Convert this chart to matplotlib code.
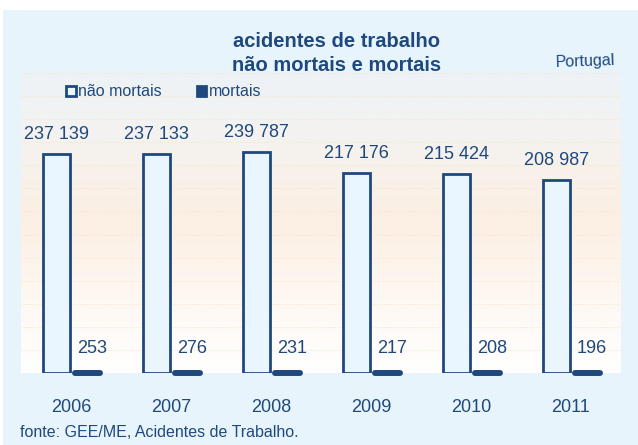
import numpy as np
import matplotlib
matplotlib.use("Agg")
import matplotlib.pyplot as plt
from matplotlib.colors import LinearSegmentedColormap
from matplotlib.patches import Rectangle, Patch

plt.rcParams['font.family'] = ['Liberation Sans', 'DejaVu Sans']

years = ["2006", "2007", "2008", "2009", "2010", "2011"]
nao_mortais = [237139, 237133, 239787, 217176, 215424, 208987]
mortais = [253, 276, 231, 217, 208, 196]
nao_labels = ["237 139", "237 133", "239 787", "217 176", "215 424", "208 987"]
mort_labels = ["253", "276", "231", "217", "208", "196"]

DARK = "#1F497D"
LIGHT_FILL = "#E9F5FF"
FRAME = "#E8F4FC"

W, H = 638, 445
fig = plt.figure(figsize=(W / 100, H / 100), dpi=100)
fig.patch.set_facecolor("white")

# outer light-blue frame
fig.add_artist(Rectangle((3 / W, 0), 1 - 3 / W, 1 - 10 / H, transform=fig.transFigure,
                         facecolor=FRAME, edgecolor="none", zorder=0))

ax = fig.add_axes([21 / W, (H - 373) / H, 600 / W, 300 / H])
ax.set_xlim(-0.5, 5.5)
ax.set_ylim(0, 325000)
ax.set_facecolor("none")
for s in ax.spines.values():
    s.set_visible(False)

# gradient background
cmap = LinearSegmentedColormap.from_list("bg", [
    (0.0, "#FFFFFF"), (0.3, "#FEF6EF"), (0.52, "#FCEFE3"),
    (0.8, "#F4F3F1"), (1.0, "#EDF2F7")])
grad = np.linspace(0, 1, 256).reshape(-1, 1)
ax.imshow(grad, cmap=cmap, aspect="auto", origin="lower",
          extent=(-0.5, 5.5, 0, 325000), zorder=0)

# gridlines
ax.set_yticks(np.arange(25000, 325001, 25000))
ax.yaxis.grid(True, linestyle=(0, (1, 1.5)), color="#F9E4CC", linewidth=0.7, zorder=1)
ax.tick_params(axis="y", left=False, labelleft=False)

x = np.arange(len(years))
b1 = ax.bar(x - 0.145, nao_mortais, width=0.27, facecolor=LIGHT_FILL,
            edgecolor=DARK, linewidth=2.0, zorder=3)
b2 = ax.bar(x + 0.16, mortais, width=0.25, facecolor=DARK, edgecolor=DARK,
            linewidth=4.3, zorder=3, joinstyle="round", capstyle="round", clip_on=False)

for xi, v, lab in zip(x, nao_mortais, nao_labels):
    ax.annotate(lab, xy=(xi - 0.145, v), xytext=(0, 15), textcoords="offset pixels",
                ha="center", va="baseline", fontsize=13, color=DARK)
for xi, v, lab in zip(x, mortais, mort_labels):
    ax.annotate(lab, xy=(xi + 0.16, v), xytext=(5, 20), textcoords="offset pixels",
                ha="center", va="baseline", fontsize=13, color=DARK)

ax.set_xticks(x)
ax.set_xticklabels(years, fontsize=13, color=DARK)
ax.tick_params(axis="x", length=0, pad=18.5)

# title
fig.text(336.5 / W, 1 - 46.7 / H, "acidentes de trabalho", ha="center", va="baseline",
         fontsize=14.5, fontweight="bold", color=DARK)
fig.text(336.5 / W, 1 - 70.7 / H, "não mortais e mortais", ha="center", va="baseline",
         fontsize=14.5, fontweight="bold", color=DARK)
fig.text(615 / W, 1 - 65 / H, "Portugal", ha="right", va="baseline",
         fontsize=11.5, color=DARK, rotation=2, rotation_mode="anchor")

# legend
handles = [Patch(facecolor=LIGHT_FILL, edgecolor=DARK, linewidth=2.0, label="não mortais"),
           Patch(facecolor=DARK, edgecolor=DARK, linewidth=2.0, joinstyle="round",
                 label="mortais")]
fig.legend(handles=handles, loc="center left", bbox_to_anchor=(66 / W, 1 - 92 / H),
           ncol=2, frameon=False, fontsize=11.5, handlelength=0.6, handleheight=0.65,
           handletextpad=0.15, columnspacing=2.2, borderpad=0, borderaxespad=0,
           labelcolor=DARK)

fig.text(20.5 / W, 1 - 436.7 / H, "fonte: GEE/ME, Acidentes de Trabalho.", ha="left",
         va="baseline", fontsize=11.5, color=DARK)

fig.savefig("out.png", dpi=100)
